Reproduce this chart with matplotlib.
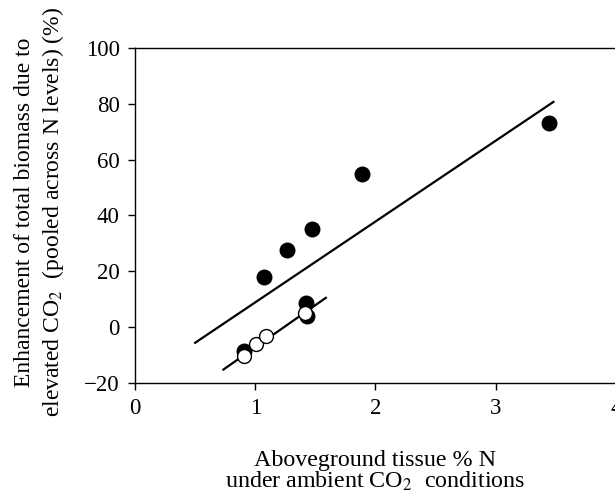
import matplotlib
matplotlib.use('Agg')
import matplotlib.pyplot as plt

plt.rcParams['font.family'] = ['Liberation Serif', 'DejaVu Serif']
plt.rcParams['mathtext.fontset'] = 'stix'

# filled circles
filled_x = [3.44, 1.89, 1.47, 1.26, 1.07, 1.42, 1.43, 0.91]
filled_y = [73, 55, 35, 27.6, 18, 8.5, 4.0, -8.5]

# open circles
open_x = [1.41, 0.91, 1.01, 1.09]
open_y = [5.1, -10.3, -6.2, -3.2]

# regression lines (end points)
line1_x = [0.5, 3.48]
line1_y = [-5.6, 80.7]
line2_x = [0.735, 1.587]
line2_y = [-15.2, 10.5]

xticks = [0, 1, 2, 3, 4]
yticks = [-20, 0, 20, 40, 60, 80, 100]

fig = plt.figure(figsize=(6.15, 4.95), dpi=100)
ax = fig.add_axes([0.2195, 0.2263, 0.7821, 0.6767])

ax.plot(line1_x, line1_y, color='black', lw=1.6, zorder=2)
ax.plot(line2_x, line2_y, color='black', lw=1.6, zorder=2)
ax.scatter(filled_x, filled_y, s=110, color='black', zorder=3)
ax.scatter(open_x, open_y, s=100, facecolor='white', edgecolor='black', lw=1.0, zorder=4)

ax.set_xlim(0, 4)
ax.set_ylim(-20, 100)
ax.set_xticks(xticks)
ax.set_yticks(yticks)
ax.tick_params(direction='out', length=5, width=1, labelsize=16.5, pad=6)
for sp in ax.spines.values():
    sp.set_linewidth(1.0)

ax.set_xlabel('Aboveground tissue % N\nunder ambient CO$_2$  conditions',
              fontsize=17.3, labelpad=22, linespacing=0.95)
ax.set_ylabel('Enhancement of total biomass due to\nelevated CO$_2$  (pooled across N levels) (%)',
              fontsize=17.0, linespacing=1.3)
ax.yaxis.set_label_coords(-0.143, 0.51)

fig.savefig('out.png', dpi=100)
